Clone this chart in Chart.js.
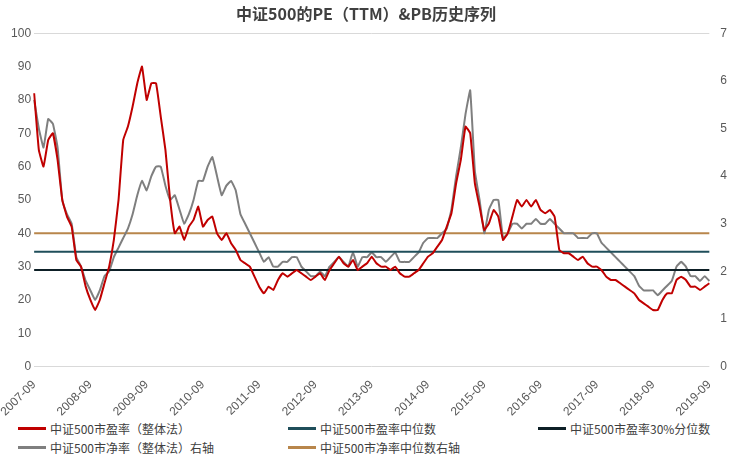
<!DOCTYPE html>
<html>
<head>
<meta charset="utf-8">
<script src="https://cdn.jsdelivr.net/npm/chart.js@4/dist/chart.umd.min.js"></script>
<style>
  body { margin: 0; background: #fff; font-family: "Noto Sans CJK SC", sans-serif; }
  #wrap { width: 734px; height: 422px; position: relative; }
  #legend { display: grid; grid-template-columns: 270px 250px 214px; font-size: 12px; color: #404040; padding-left: 18px; row-gap: 2px; margin-top: -2px; }
  #legend div { display: flex; align-items: center; white-space: nowrap; }
  #legend span.sw { display: inline-block; width: 28px; height: 3px; margin-right: 4px; }
</style>
</head>
<body>
<div id="wrap"><canvas id="chart"></canvas></div>
<div id="legend"></div>
<script>
var months = [];
for (var y = 2007; y <= 2019; y++) {
  for (var m = 1; m <= 12; m++) {
    if ((y === 2007 && m < 9) || (y === 2019 && m > 9)) continue;
    months.push(y + "-" + (m < 10 ? "0" + m : m));
  }
}

var pe = [82, 65, 60, 68,
  70, 62, 50, 45, 42, 32, 30, 24, 20, 17, 20, 25,
  30, 38, 50, 68, 72, 78, 85, 90, 80, 85, 85, 75,
  65, 50, 40, 42, 38, 42, 44, 48, 42, 44, 45, 40,
  38, 40, 37, 35, 32, 31, 30, 27, 24, 22, 24, 23,
  26, 28, 27, 28, 29, 28, 27, 26, 27, 28, 26, 29,
  31, 33, 31, 30, 32, 29, 30, 31, 33, 31, 30, 30,
  29, 30, 28, 27, 27, 28, 29, 31, 33, 34, 36, 38,
  42, 46, 55, 62, 72, 70, 55, 48, 41, 43, 47, 45,
  38, 40, 45, 50, 48, 50, 48, 50, 47, 46, 47, 45,
  35, 34, 34, 33, 32, 33, 31, 30, 30, 29, 27, 26,
  26, 25, 24, 23, 22, 20, 19, 18, 17, 17, 20, 22,
  22, 26, 27, 26, 24, 24, 23, 24, 25];

var pb = [5.6, 5.0, 4.6, 5.2,
  5.1, 4.6, 3.5, 3.2, 3.0, 2.3, 2.1, 1.8, 1.6, 1.4, 1.6, 1.9,
  2.0, 2.3, 2.5, 2.7, 2.9, 3.2, 3.6, 3.9, 3.7, 4.0, 4.2, 4.2,
  3.8, 3.5, 3.6, 3.3, 3.0, 3.2, 3.5, 3.9, 3.9, 4.2, 4.4, 4.0,
  3.6, 3.8, 3.9, 3.7, 3.2, 3.0, 2.8, 2.6, 2.4, 2.2, 2.3, 2.1,
  2.1, 2.2, 2.2, 2.3, 2.3, 2.1, 2.0, 1.9, 1.9, 2.0, 1.9, 2.1,
  2.2, 2.3, 2.2, 2.1, 2.4, 2.1, 2.3, 2.3, 2.4, 2.3, 2.3, 2.2,
  2.3, 2.4, 2.2, 2.2, 2.2, 2.3, 2.4, 2.6, 2.7, 2.7, 2.7, 2.8,
  2.9, 3.3, 4.0, 4.6, 5.3, 5.8, 4.1, 3.5, 2.8, 3.3, 3.5, 3.5,
  2.7, 2.8, 3.0, 3.0, 2.9, 3.0, 3.0, 3.1, 3.0, 3.0, 3.1, 3.0,
  2.9, 2.8, 2.8, 2.8, 2.7, 2.7, 2.7, 2.8, 2.8, 2.6, 2.5, 2.4,
  2.3, 2.2, 2.1, 2.0, 1.9, 1.7, 1.6, 1.6, 1.6, 1.5, 1.6, 1.7,
  1.8, 2.1, 2.2, 2.1, 1.9, 1.9, 1.8, 1.9, 1.8];

var peMedian = 34.5;
var pe30 = 29;
var pbMedian = 2.8;

function flat(v) { return months.map(function () { return v; }); }

var series = [
  { label: "中证500市盈率（整体法）", data: pe, color: "#c00000", axis: "y" },
  { label: "中证500市盈率中位数", data: flat(peMedian), color: "#1f4e5a", axis: "y" },
  { label: "中证500市盈率30%分位数", data: flat(pe30), color: "#0d1f26", axis: "y" },
  { label: "中证500市净率（整体法）右轴", data: pb, color: "#7f7f7f", axis: "y1" },
  { label: "中证500市净率中位数右轴", data: flat(pbMedian), color: "#b8864b", axis: "y1" }
];

var tickFont = { size: 12, family: "Liberation Sans" };

new Chart(document.getElementById("chart"), {
  type: "line",
  data: {
    labels: months,
    datasets: series.map(function (s, i) {
      return {
        label: s.label, data: s.data, yAxisID: s.axis,
        borderColor: s.color, borderWidth: 2, pointRadius: 0, tension: 0.1,
        order: i === 0 ? 1 : 2
      };
    })
  },
  options: {
    responsive: true,
    maintainAspectRatio: false,
    animation: false,
    layout: { padding: { left: 2, right: 4, top: 0 } },
    plugins: {
      legend: { display: false },
      title: {
        display: true, text: "中证500的PE（TTM）&PB历史序列",
        color: "#404040", font: { size: 16, weight: "bold", family: "Noto Sans CJK SC" },
        padding: { top: 4, bottom: 10 }
      }
    },
    scales: {
      x: {
        grid: { display: false },
        border: { display: false },
        ticks: {
          autoSkip: false, maxRotation: 45, minRotation: 45, color: "#595959", font: tickFont,
          callback: function (v) { var l = this.getLabelForValue(v); return l.slice(5) === "09" ? l : null; }
        }
      },
      y: {
        position: "left", min: 0, max: 100,
        ticks: { stepSize: 10, color: "#595959", font: tickFont },
        border: { display: false },
        grid: { drawTicks: false, color: function (c) { return (c.tick.value === 0 || c.tick.value === 100) ? "#d9d9d9" : "rgba(0,0,0,0)"; } }
      },
      y1: {
        position: "right", min: 0, max: 7,
        ticks: { stepSize: 1, color: "#595959", font: tickFont },
        border: { display: false },
        grid: { display: false }
      }
    }
  }
});

var lg = document.getElementById("legend");
series.forEach(function (s) {
  var d = document.createElement("div");
  d.innerHTML = '<span class="sw" style="background:' + s.color + '"></span>' + s.label;
  lg.appendChild(d);
});
</script>
</body>
</html>
